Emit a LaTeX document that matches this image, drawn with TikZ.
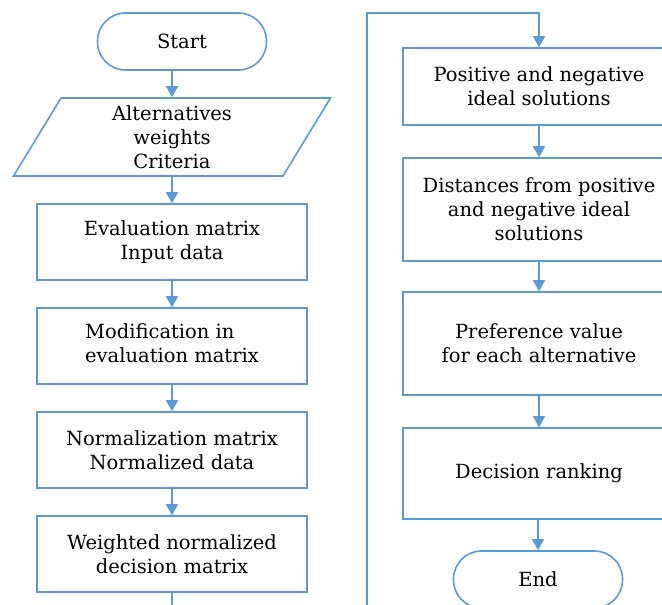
\documentclass[tikz,border=0pt]{standalone}
\usepackage{fontspec}
\setmainfont{DejaVu Serif}
\usetikzlibrary{arrows.meta,shapes.geometric}
\definecolor{flowblue}{RGB}{91,155,213}
\tikzset{
  box/.style={draw=flowblue, line width=1.6pt, rectangle, minimum width=270pt,
    minimum height=76pt, inner sep=0pt, align=center, font=\fontsize{19.5}{24}\selectfont},
  rbox/.style={box, minimum width=272pt},
  term/.style={box, minimum width=169pt, minimum height=57pt, rounded corners=28pt},
  inbox/.style={box, shape=trapezium, trapezium left angle=53, trapezium right angle=127,
    trapezium stretches body=true, minimum width=317pt, minimum height=78pt},
  flow/.style={draw=flowblue, line width=1.6pt, -{Triangle[width=12pt,length=11pt]}}
}
\begin{document}
\begin{tikzpicture}[x=1pt, y=-1pt]
			% Picture frame
			\useasboundingbox (0,0) rectangle (662,605);
			\clip (0,0) rectangle (662,605);
			
			% Left column
			\node[term] (start) at (182,41.5) {Start};
			\node[inbox] (para) at (172,137) {Alternatives\\weights\\Criteria};
			\node[box] (eval) at (172,242) {Evaluation matrix\\Input data};
			\node[box] (mod) at (172,346) {\begin{tabular}{@{}l@{}}Modification in\\evaluation matrix\end{tabular}};
			\node[box] (norm) at (172,450) {Normalization matrix\\Normalized data};
			\node[box] (wnd) at (172,554) {Weighted normalized\\decision matrix};
			
			% Right column
			\node[rbox, minimum height=77pt] (pos) at (539,86.5) {Positive and negative\\ideal solutions};
			\node[rbox, minimum height=103pt] (dist) at (539,209.5) {Distances from positive\\and negative ideal\\solutions};
			\node[rbox, minimum height=103pt] (pref) at (539,343.5) {Preference value\\for each alternative};
			\node[rbox, minimum height=91pt] (dec) at (539,473.5) {Decision ranking};
			\node[term] (end) at (538,579.5) {End};
			
			% Loop from the left column to the right column
			\coordinate (loopbot) at (367,625);
			\coordinate (looptop) at (367,13);
			
			% Arrows
			\draw[flow] (start.south -| para.north) -- (para.north);
			\draw[flow] (para) -- (eval);
			\draw[flow] (eval) -- (mod);
			\draw[flow] (mod) -- (norm);
			\draw[flow] (norm) -- (wnd);
			\draw[flow] (wnd) |- (loopbot) -- (looptop) -| (pos);
			\draw[flow] (pos) -- (dist);
			\draw[flow] (dist) -- (pref);
			\draw[flow] (pref) -- (dec);
			\draw[flow] (dec.south -| end.north) -- (end.north);
			
		\end{tikzpicture}
\end{document}
